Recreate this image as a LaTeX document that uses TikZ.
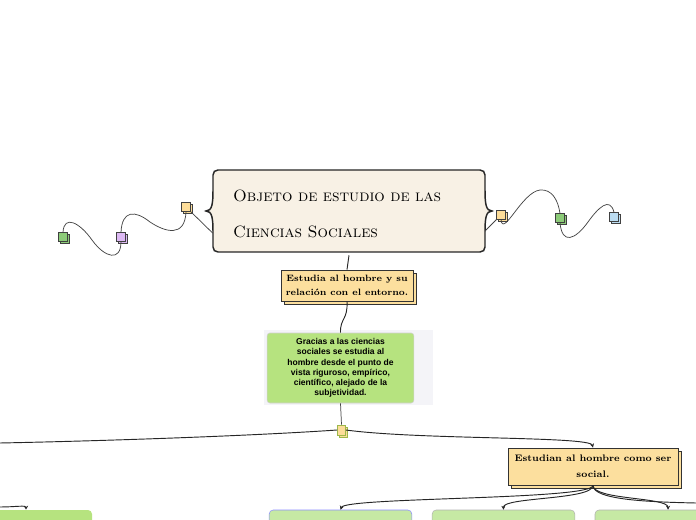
\documentclass[tikz,border=0pt]{standalone}
\usepackage{fontspec}
\newfontfamily\notefont{Liberation Sans}
\usetikzlibrary{shadows,arrows.meta}
\definecolor{titlefill}{HTML}{F8F1E5}
\definecolor{notefill}{HTML}{FCDF9E}
\definecolor{greenfill}{HTML}{B6E37F}
\definecolor{paleg}{HTML}{C6E9A4}
\definecolor{backgray}{HTML}{F4F4F8}
\definecolor{sqyellow}{HTML}{FDDD99}
\definecolor{sqgreen}{HTML}{8CCB78}
\definecolor{sqpurple}{HTML}{DDB9F4}
\definecolor{sqblue}{HTML}{BCDDF2}
\definecolor{sqolive}{HTML}{9DB84A}
\definecolor{wire}{HTML}{444444}

\begin{document}
\begin{tikzpicture}[auto, x=0.75pt, y=-0.75pt,
    titletext/.style ={rectangle, text width=174pt, minimum height=61.5pt,
        inner xsep=15pt, align=left, font=\fontsize{12.3}{27}\selectfont\scshape},
    notebox/.style ={rectangle, draw=black!80, fill=notefill, line width=0.6pt, inner sep=0pt,
        align=center, copy shadow={shadow xshift=2.25pt, shadow yshift=-2.25pt}},
    greenbox/.style ={rectangle, rounded corners=2pt, draw=black!18, fill=greenfill, inner sep=0pt,
        align=center, font=\notefont\bfseries\fontsize{6.4}{7.7}\selectfont},
    subbox/.style ={rectangle, rounded corners=3pt, fill=paleg, draw=black!30,
        minimum width=107pt, minimum height=30pt},
    sq/.style ={rectangle, draw=black!75, line width=0.5pt, minimum size=6.5pt, inner sep=0pt,
        copy shadow={shadow xshift=1.5pt, shadow yshift=-1.5pt}},
    wave/.style ={draw=wire, line width=0.55pt},
    link/.style ={draw=black!85, line width=0.7pt},
    arrow/.style ={link, -{Stealth[length=3pt, width=3pt]}}]
   \useasboundingbox (0,0) rectangle (696,520);
   \clip (0,0) rectangle (696,520);
   % main topic frame with braces
   \filldraw[fill=titlefill, draw=black!85, line width=1.1pt]
      (218,170) -- (480,170) .. controls (483,170) and (485,172) .. (485,175) -- (485,190)
      .. controls (485,204) and (486,211) .. (492,211) .. controls (486,211) and (485,218) .. (485,232)
      -- (485,247) .. controls (485,250) and (483,252) .. (480,252) -- (218,252)
      .. controls (215,252) and (213,250) .. (213,247) -- (213,232)
      .. controls (213,218) and (212,211) .. (206,211) .. controls (212,211) and (213,204) .. (213,190)
      -- (213,175) .. controls (213,172) and (215,170) .. (218,170) -- cycle;
   \node[titletext] (title) at (349,214) {Objeto de estudio de las\\Ciencias Sociales};
   % small squares
   \node[sq, fill=sqyellow] (ysqa) at (186,207) {};
   \node[sq, fill=sqpurple] (psq) at (121,237) {};
   \node[sq, fill=sqgreen] (gsqa) at (63,237) {};
   \node[sq, fill=sqyellow] (ysqb) at (501,215) {};
   \node[sq, fill=sqgreen] (gsqb) at (560,218) {};
   \node[sq, fill=sqblue] (bsq) at (614,217) {};
   % nodes
   \node[notebox, minimum width=99pt, minimum height=23.25pt,
      font=\bfseries\fontsize{6.9}{10.5}\selectfont] (estudia) at (347,285.5)
      {Estudia al hombre y su\\relación con el entorno.};
   \fill[backgray] (264,330) rectangle (433,405);
   \node[greenbox, minimum width=110pt, minimum height=52.5pt] (gracias) at (340.5,368)
      {Gracias a las ciencias\\sociales se estudia al\\hombre desde el punto de\\vista riguroso, empírico,\\científico, alejado de la\\subjetividad.};
   \node[sq, fill=sqyellow, draw=sqolive, minimum width=6pt, minimum height=7.5pt] (msq) at (341.5,430) {};
   \node[notebox, minimum width=127.5pt, minimum height=27.75pt,
      font=\bfseries\fontsize{7.1}{12}\selectfont] (estudian) at (593,466.5)
      {Estudian al hombre como ser\\social.};
   \node[subbox, fill=greenfill, draw=none, minimum width=99pt] (boxl) at (26,530) {};
   \node[subbox, draw=blue!45] (boxa) at (340.5,530) {};
   \node[subbox] (boxb) at (503.5,530) {};
   \node[subbox, minimum width=109.5pt] (boxc) at (668,530) {};
   \coordinate (lefta) at (0,443);
   \coordinate (leftb) at (0,507);
   \coordinate (rightc) at (696,503);
   % wavy links
   \draw[wave] (title.188) -- (ysqa);
   \draw[wave] (ysqa.south) .. controls (185,238) and (165,232) .. (150,222)
      .. controls (135,210) and (122,210) .. (psq.north);
   \draw[wave] (psq.south) .. controls (121,262) and (105,258) .. (92,240)
      .. controls (80,223) and (64,214) .. (gsqa.north);
   \draw[wave] (title.-7) -- (ysqb);
   \draw[wave] (ysqb.south) .. controls (503,238) and (522,192) .. (540,190)
      .. controls (552,189) and (558,200) .. (gsqb.north);
   \draw[wave] (gsqb.south) .. controls (562,245) and (575,240) .. (588,222)
      .. controls (598,208) and (610,196) .. (bsq.north);
   % tree links
   \draw[link] (title.south) -- (estudia.north);
   \draw[link] (estudia.south) .. controls (348,320) and (340,318) .. (gracias.north);
   \draw[wave] (gracias.south) -- (msq.north);
   \draw[link] (msq.west) .. controls (250,436) and (100,441) .. (lefta);
   \draw[arrow] (msq.east) .. controls (420,440) and (590,436) .. (estudian.north);
   \draw[arrow] (leftb) .. controls (15,507) and (26,505) .. (boxl.north);
   \draw[arrow] (estudian.south) .. controls (593,500) and (345,497) .. (boxa.north);
   \draw[arrow] (estudian.south) .. controls (593,500) and (503,497) .. (boxb.north);
   \draw[arrow] (estudian.south) .. controls (593,500) and (668,497) .. (boxc.north);
   \draw[link] (estudian.south) .. controls (593,500) and (650,502) .. (rightc);
 \end{tikzpicture}
\end{document}
